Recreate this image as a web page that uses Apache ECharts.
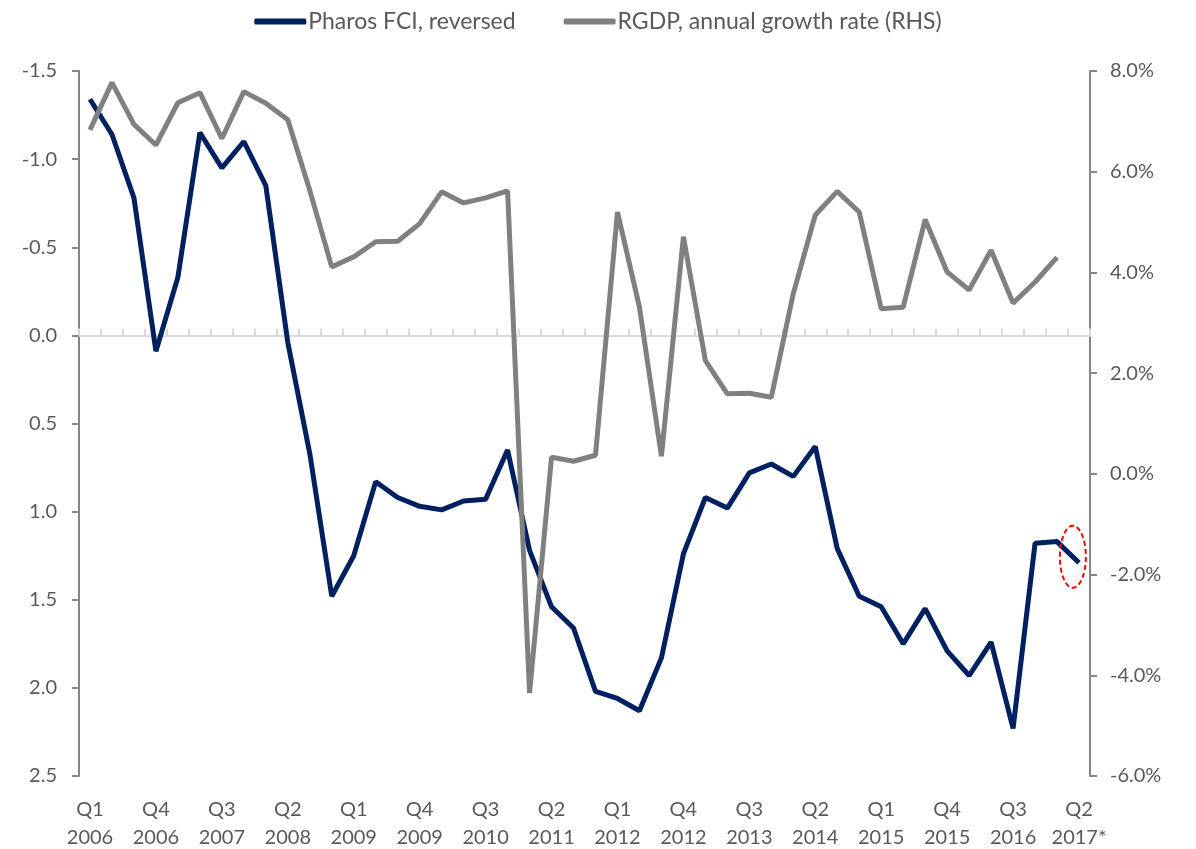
<!DOCTYPE html>
<html>
<head>
<meta charset="utf-8">
<script src="https://cdn.jsdelivr.net/npm/echarts@6/dist/echarts.min.js"></script>
<style>
html,body{margin:0;padding:0;background:#fff;}
#chart{width:1196px;height:849px;}
</style>
</head>
<body>
<div id="chart"></div>
<script>
var categories = [
  'Q1\n2006','Q2\n2006','Q3\n2006','Q4\n2006',
  'Q1\n2007','Q2\n2007','Q3\n2007','Q4\n2007',
  'Q1\n2008','Q2\n2008','Q3\n2008','Q4\n2008',
  'Q1\n2009','Q2\n2009','Q3\n2009','Q4\n2009',
  'Q1\n2010','Q2\n2010','Q3\n2010','Q4\n2010',
  'Q1\n2011','Q2\n2011','Q3\n2011','Q4\n2011',
  'Q1\n2012','Q2\n2012','Q3\n2012','Q4\n2012',
  'Q1\n2013','Q2\n2013','Q3\n2013','Q4\n2013',
  'Q1\n2014','Q2\n2014','Q3\n2014','Q4\n2014',
  'Q1\n2015','Q2\n2015','Q3\n2015','Q4\n2015',
  'Q1\n2016','Q2\n2016','Q3\n2016','Q4\n2016',
  'Q1\n2017','Q2\n2017*'
];

var pharosFCI = [-1.34, -1.14, -0.78, 0.09, -0.33, -1.15, -0.95, -1.10, -0.85, 0.04,
  0.67, 1.48, 1.25, 0.83, 0.92, 0.97, 0.99, 0.94, 0.93, 0.65,
  1.22, 1.54, 1.66, 2.02, 2.06, 2.13, 1.83, 1.24, 0.92, 0.98,
  0.78, 0.73, 0.80, 0.63, 1.21, 1.48, 1.54, 1.75, 1.55, 1.79,
  1.93, 1.74, 2.23, 1.18, 1.17, 1.29];

var rgdpGrowth = [6.83, 7.77, 6.94, 6.53, 7.37, 7.57, 6.66, 7.59, 7.36, 7.03,
  5.63, 4.11, 4.31, 4.61, 4.62, 4.97, 5.60, 5.38, 5.48, 5.62,
  -4.35, 0.33, 0.25, 0.37, 5.20, 3.31, 0.35, 4.71, 2.25, 1.59,
  1.60, 1.52, 3.58, 5.14, 5.61, 5.20, 3.28, 3.31, 5.05, 4.01,
  3.65, 4.44, 3.39, 3.81, 4.30, null];

var seriesNames = ['Pharos FCI, reversed', 'RGDP, annual growth rate (RHS)'];

var FONT = 'Lato';
var TXT = '#595959';
var AX = '#868686';

var chart = echarts.init(document.getElementById('chart'), null, {renderer: 'canvas'});

chart.setOption({
  animation: false,
  backgroundColor: '#ffffff',
  textStyle: {fontFamily: FONT},
  grid: {left: 79, right: 106, top: 71, bottom: 73, containLabel: false, outerBoundsMode: 'none'},
  legend: {
    top: 5,
    left: 'center',
    icon: 'roundRect',
    itemWidth: 52,
    itemHeight: 6,
    itemGap: 48,
    textStyle: {color: TXT, fontSize: 23, fontFamily: FONT, padding: [0, 0, 0, -3]},
    data: seriesNames
  },
  xAxis: [
    {
      type: 'category',
      data: categories,
      boundaryGap: true,
      position: 'bottom',
      axisLine: {show: false, onZero: false},
      axisTick: {show: false},
      splitLine: {show: false},
      axisLabel: {
        interval: 2,
        color: TXT,
        fontSize: 20,
        lineHeight: 28,
        margin: 20,
        fontFamily: FONT
      }
    },
    {
      type: 'category',
      data: categories,
      boundaryGap: true,
      position: 'bottom',
      axisLine: {show: true, onZero: true, onZeroAxisIndex: 0, lineStyle: {color: '#d9d9d9', width: 2}},
      axisTick: {show: true, inside: true, length: 7, interval: 0, lineStyle: {color: '#d9d9d9', width: 2}},
      axisLabel: {show: false},
      splitLine: {show: false}
    }
  ],
  yAxis: [
    {
      type: 'value',
      position: 'left',
      inverse: true,
      min: -1.5,
      max: 2.5,
      interval: 0.5,
      splitLine: {show: false},
      axisLine: {show: true, onZero: false, lineStyle: {color: AX, width: 2}},
      axisTick: {show: true, length: 7, lineStyle: {color: AX, width: 2}},
      axisLabel: {
        color: TXT, fontSize: 20, margin: 22, fontFamily: FONT,
        formatter: function (v) { return v.toFixed(1); }
      }
    },
    {
      type: 'value',
      position: 'right',
      min: -6,
      max: 8,
      interval: 2,
      splitLine: {show: false},
      axisLine: {show: true, onZero: false, lineStyle: {color: AX, width: 2}},
      axisTick: {show: true, length: 7, lineStyle: {color: AX, width: 2}},
      axisLabel: {
        color: TXT, fontSize: 20, margin: 20, fontFamily: FONT,
        formatter: function (v) { return v.toFixed(1) + '%'; }
      }
    }
  ],
  series: [
    {
      name: seriesNames[0],
      type: 'line',
      xAxisIndex: 0,
      yAxisIndex: 0,
      data: pharosFCI,
      symbol: 'none',
      color: '#002060',
      lineStyle: {color: '#002060', width: 5},
      z: 3
    },
    {
      name: seriesNames[1],
      type: 'line',
      xAxisIndex: 0,
      yAxisIndex: 1,
      data: rgdpGrowth,
      symbol: 'none',
      color: '#808080',
      lineStyle: {color: '#808080', width: 5},
      z: 4
    }
  ]
});

// Dashed red ellipse annotation around the last FCI segment
var n = pharosFCI.length;
var pA = chart.convertToPixel({seriesIndex: 0}, [n - 2, pharosFCI[n - 2]]);
var pB = chart.convertToPixel({seriesIndex: 0}, [n - 1, pharosFCI[n - 1]]);
var t = 0.72;
chart.setOption({
  graphic: [{
    type: 'ellipse',
    shape: {cx: pA[0] + (pB[0] - pA[0]) * t, cy: pA[1] + (pB[1] - pA[1]) * t, rx: 13, ry: 31},
    style: {fill: 'none', stroke: '#ff0000', lineWidth: 2, lineDash: [5, 3]},
    z: 10
  }]
});
</script>
</body>
</html>
